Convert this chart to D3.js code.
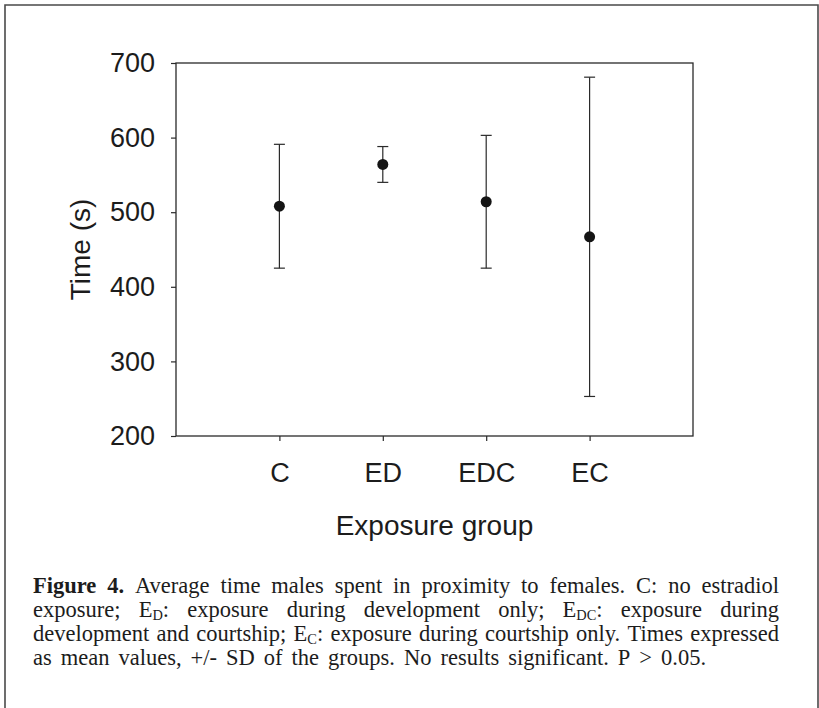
<!DOCTYPE html>
<html>
<head>
<meta charset="utf-8">
<script src="https://cdn.jsdelivr.net/npm/d3@7"></script>
<style>
  html, body { margin: 0; padding: 0; background: #fff; }
  svg { display: block; }
</style>
</head>
<body>
<svg id="fig" width="819" height="708"></svg>
<script>
// Exposure groups and time in proximity (s): mean and +/- SD limits
const groups = ["C", "ED", "EDC", "EC"];
const means = [508, 564, 514, 467];
const upper = [591, 588, 603, 681];
const lower = [425, 540, 425, 253];
const yTicks = [200, 300, 400, 500, 600, 700];

const svg = d3.select("#fig");
const ink = "#1c1c1c";

// outer frame of the figure panel (open at the bottom)
svg.append("path")
  .attr("d", "M5,720 L5,5 L818,5 L818,720")
  .attr("fill", "none").attr("stroke", "#4a4a4a").attr("stroke-width", 1.6);

const plot = { left: 176, right: 693, top: 63, bottom: 436 };

const x = d3.scaleLinear().domain([0, groups.length + 1]).range([plot.left, plot.right]);
const y = d3.scaleLinear().domain([200, 700]).range([plot.bottom, plot.top]);

const axisFont = "'Liberation Sans', Arial, Helvetica, sans-serif";

// plot frame
svg.append("rect")
  .attr("x", plot.left).attr("y", plot.top)
  .attr("width", plot.right - plot.left).attr("height", plot.bottom - plot.top)
  .attr("fill", "none").attr("stroke", "#2a2a2a").attr("stroke-width", 1.3);

// y axis
const yAxis = svg.append("g")
  .attr("transform", `translate(${plot.left},0)`)
  .call(d3.axisLeft(y).tickValues(yTicks).tickSize(5).tickPadding(16).tickFormat(d3.format("d")));
yAxis.select(".domain").remove();
yAxis.selectAll("line").attr("stroke", "#2a2a2a").attr("stroke-width", 1.2);
yAxis.selectAll("text")
  .attr("font-family", axisFont).attr("font-size", 27).attr("fill", ink);

// x axis
const xAxis = svg.append("g")
  .attr("transform", `translate(0,${plot.bottom})`)
  .call(d3.axisBottom(x).tickValues(groups.map((g, i) => i + 1))
    .tickSize(5).tickPadding(22).tickFormat((d) => groups[d - 1]));
xAxis.select(".domain").remove();
xAxis.selectAll("line").attr("stroke", "#2a2a2a").attr("stroke-width", 1.2);
xAxis.selectAll("text")
  .attr("font-family", axisFont).attr("font-size", 27).attr("fill", ink);

// axis titles
svg.append("text")
  .attr("x", (plot.left + plot.right) / 2).attr("y", 535)
  .attr("text-anchor", "middle")
  .attr("font-family", axisFont).attr("font-size", 28).attr("fill", ink)
  .text("Exposure group");

svg.append("text")
  .attr("transform", `translate(90,${(plot.top + plot.bottom) / 2}) rotate(-90)`)
  .attr("text-anchor", "middle")
  .attr("font-family", axisFont).attr("font-size", 28).attr("fill", ink)
  .text("Time (s)");

// error bars and mean markers
const rows = groups.map((g, i) => ({ g, i, mean: means[i], hi: upper[i], lo: lower[i] }));
const capHalf = 5.5;
const bars = svg.append("g").attr("stroke", "#2a2a2a").attr("stroke-width", 1.2);
rows.forEach((d) => {
  const cx = x(d.i + 1);
  bars.append("line").attr("x1", cx).attr("x2", cx).attr("y1", y(d.hi)).attr("y2", y(d.lo));
  bars.append("line").attr("x1", cx - capHalf).attr("x2", cx + capHalf).attr("y1", y(d.hi)).attr("y2", y(d.hi));
  bars.append("line").attr("x1", cx - capHalf).attr("x2", cx + capHalf).attr("y1", y(d.lo)).attr("y2", y(d.lo));
});
svg.append("g").selectAll("circle").data(rows).join("circle")
  .attr("cx", (d) => x(d.i + 1)).attr("cy", (d) => y(d.mean))
  .attr("r", 5.5).attr("fill", "#141414");

// caption, fully justified except for the last line
const capFont = "'Liberation Serif', 'Times New Roman', serif";
const capSize = 22.5;
const capLeft = 33, capRight = 779;
const capBase = [593, 617, 641, 665];
const lastGap = 9;
const W = (t, o = {}) => [{ t, ...o }];
const Esub = (s, tail) => [{ t: "E" }, { t: s, sub: true }, { t: tail }];
const capLines = [
  [[{ t: "Figure", b: true }], [{ t: "4.", b: true }], W("Average"), W("time"), W("males"), W("spent"),
   W("in"), W("proximity"), W("to"), W("females."), W("C:"), W("no"), W("estradiol")],
  [W("exposure;"), Esub("D", ":"), W("exposure"), W("during"), W("development"), W("only;"),
   Esub("DC", ":"), W("exposure"), W("during")],
  [W("development"), W("and"), W("courtship;"), Esub("C", ":"), W("exposure"), W("during"),
   W("courtship"), W("only."), W("Times"), W("expressed")],
  [W("as"), W("mean"), W("values,"), W("+/-"), W("SD"), W("of"), W("the"), W("groups."), W("No"),
   W("results"), W("significant."), W("P"), W(">"), W("0.05.")]
];

const cap = svg.append("g").attr("font-family", capFont).attr("font-size", capSize).attr("fill", ink);
capLines.forEach((line, li) => {
  const words = line.map((segs) => {
    const t = cap.append("text").attr("y", capBase[li]);
    segs.forEach((s, si) => {
      const ts = t.append("tspan").text(s.t);
      if (s.b) ts.attr("font-weight", "bold");
      if (s.sub) ts.attr("font-size", capSize * 0.64).attr("dy", 2.5);
      else if (si > 0 && segs[si - 1].sub) ts.attr("dy", -2.5);
    });
    return { node: t, w: t.node().getComputedTextLength() };
  });
  const total = d3.sum(words, (d) => d.w);
  const last = li === capLines.length - 1;
  const gap = last ? lastGap : (capRight - capLeft - total) / (words.length - 1);
  let cx = capLeft;
  words.forEach((wd) => { wd.node.attr("x", cx); cx += wd.w + gap; });
});
</script>
</body>
</html>
